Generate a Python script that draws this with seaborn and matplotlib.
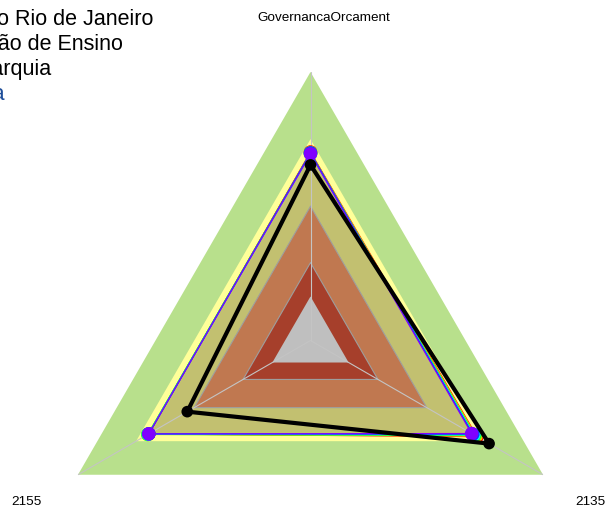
import numpy as np
import pandas as pd
import matplotlib
matplotlib.use("Agg")
import matplotlib.pyplot as plt
import seaborn as sns

sns.set_theme(style="white")
plt.rcParams['font.family'] = ['Liberation Sans', 'DejaVu Sans']

# ---- data ----
axes_labels = ["GovernancaOrcament", "2155", "2135"]
band_levels = [1.0, 0.75, 0.70, 0.50, 0.29, 0.164]
band_colors = ["#B8E08C", "#FFFF99", "#C2C070", "#C07850", "#A63F2B", "#BFBFBF"]
grid_levels = [0.29, 0.50]

series_names = ["s8", "s1", "s2", "s3", "s4", "s5", "s6", "s7"]
series_colors = ["#FF00BF", "#FF0000", "#FFBF00", "#80FF00", "#00FF40", "#00FFFF", "#0040FF", "#8000FF"]
gov_vals = [0.700, 0.702, 0.700, 0.698, 0.697, 0.696, 0.699, 0.695]
v2155_vals = [0.695, 0.696, 0.697, 0.700, 0.699, 0.697, 0.695, 0.696]
v2135_vals = [0.700, 0.716, 0.712, 0.708, 0.705, 0.702, 0.698, 0.693]

black_vals = [0.654, 0.530, 0.768]

legend_texts = ["Universidade Federal do Rio de Janeiro", "Instituição de Ensino", "Autarquia", "Natureza Jurídica"]
legend_colors = ["black", "black", "black", "#1F4E9A"]

# ---- figure ----
W, H = 611, 516
fig = plt.figure(figsize=(W / 100, H / 100), dpi=100)
cx, cy, R = 310.5, 340.5, 268.5
ax = fig.add_axes([(cx - R) / W, (H - cy - R) / H, 2 * R / W, 2 * R / H], projection="polar")
ax.set_theta_zero_location("N")
ax.set_theta_direction(1)
ax.set_ylim(0, 1)
ax.set_axis_off()

theta = np.linspace(0, 2 * np.pi, len(axes_labels), endpoint=False)
theta_c = np.append(theta, theta[0])

# background bands
for lvl, col in zip(band_levels, band_colors):
    ax.fill(theta_c, [lvl] * len(theta_c), color=col, lw=0, zorder=1)
for lvl in grid_levels:
    ax.plot(theta_c, [lvl] * len(theta_c), color="#9E9E9E", lw=0.8, zorder=2)
for t in theta:
    ax.plot([t, t], [0, 1], color="#C4C4C4", lw=0.8, zorder=2)

# series
rows = []
for name, g, a, b in zip(series_names, gov_vals, v2155_vals, v2135_vals):
    for lab, v in zip(axes_labels, [g, a, b]):
        rows.append({"series": name, "axis": lab, "value": v})
df = pd.DataFrame(rows)
theta_map = dict(zip(axes_labels, theta))

for name, col in zip(series_names, series_colors):
    d = df[df.series == name].copy()
    d["theta"] = d["axis"].map(theta_map)
    dc = pd.concat([d, d.iloc[[0]]])
    dc = dc.assign(theta=np.append(d["theta"].values, 2 * np.pi))
    sns.lineplot(data=dc, x="theta", y="value", sort=False, estimator=None,
                 color=col, lw=0.9, ax=ax, zorder=3)
    sns.scatterplot(data=d, x="theta", y="value", color=col, s=95,
                    edgecolor="none", ax=ax, zorder=4)

bt = np.append(theta, 2 * np.pi)
bv = black_vals + [black_vals[0]]
sns.lineplot(x=bt, y=bv, sort=False, estimator=None, color="black", lw=3.0, ax=ax, zorder=5)
sns.scatterplot(x=theta, y=black_vals, color="black", s=70, edgecolor="none", ax=ax, zorder=6)
ax.set_axis_off()
ax.set_ylim(0, 1)

# axis labels
label_px = [(324, 18), (27, 502), (590, 502)]
for (px, py), lab in zip(label_px, axes_labels):
    fig.text(px / W, 1 - py / H, lab, ha="center", va="center", fontsize=9.7, color="black")

# legend text (cut at left edge)
ends = [153, 123, 52, 4]
bases = [25, 50, 75, 100]
for txt, col, xe, yb in zip(legend_texts, legend_colors, ends, bases):
    fig.text(xe / W, 1 - yb / H, txt, ha="right", va="baseline", fontsize=15.5, color=col)

fig.savefig("out.png", dpi=100)
